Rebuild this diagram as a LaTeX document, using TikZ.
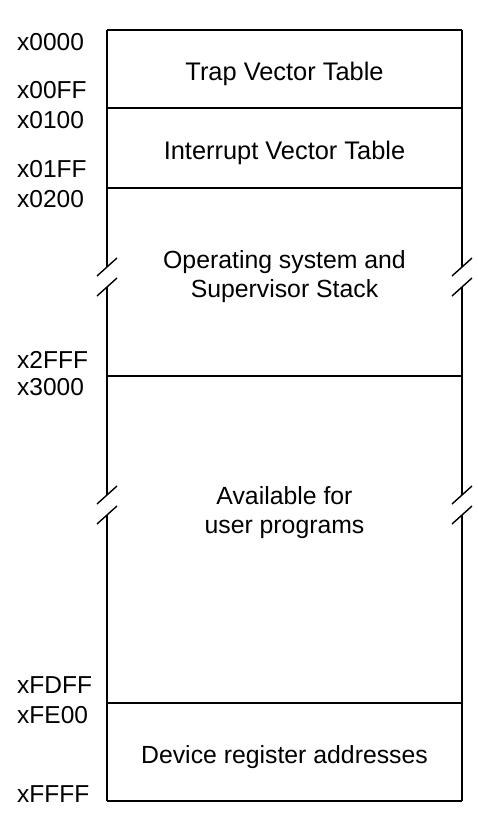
\documentclass[tikz,border=0pt]{standalone}
\usepackage{fontspec}
\setmainfont{Liberation Sans}
\begin{document}
\begin{tikzpicture}[x=1pt,y=-1pt,
  rule/.style={line width=1.4pt,black},
  addr/.style={anchor=base west,inner sep=0pt,font=\fontsize{24.5}{28}\selectfont},
  region/.style={anchor=base,inner sep=0pt,align=center,font=\fontsize{24.8}{28.5}\selectfont},
  wide/.style={font=\fontsize{25.4}{28.5}\selectfont}]
\useasboundingbox (0,0) rectangle (477,827);

% box corners and section boundaries
\coordinate (Lt) at (107,30);  \coordinate (Rt) at (462,30);
\coordinate (Lb) at (107,801); \coordinate (Rb) at (462,801);
\foreach \n/\y in {a/108,b/188,c/376,d/703}{
  \coordinate (\n l) at (107,\y); \coordinate (\n r) at (462,\y);
}
% break points on the two sides
\foreach \n/\y in {1/267,2/287,3/495,4/515}{
  \coordinate (L\n) at (107,\y); \coordinate (R\n) at (462,\y);
}

% outline and dividers
\draw[rule] (Lt) -- (Rt);
\draw[rule] (Lb) -- (Rb);
\foreach \n in {a,b,c,d}{ \draw[rule] (\n l) -- (\n r); }
\foreach \s in {L,R}{
  \draw[rule] (\s t) -- (\s1);
  \draw[rule] (\s2) -- (\s3);
  \draw[rule] (\s4) -- (\s b);
  \foreach \k in {1,2,3,4}{
    \draw[rule] ([shift={(-10,9)}]\s\k) -- ([shift={(10,-9)}]\s\k);
  }
}

% address labels
\node[addr] (x0000) at (17,50)  {x0000};
\node[addr] (x00FF) at (17,98)  {x00FF};
\node[addr] (x0100) at (17,128) {x0100};
\node[addr] (x01FF) at (17,177) {x01FF};
\node[addr] (x0200) at (17,207) {x0200};
\node[addr] (x2FFF) at (17,368) {x2FFF};
\node[addr] (x3000) at (17,395) {x3000};
\node[addr] (xFDFF) at (17,693) {xFDFF};
\node[addr] (xFE00) at (17,723) {xFE00};
\node[addr] (xFFFF) at (17,802) {xFFFF};

% region names (two-line names sit on the baseline of their last line)
\node[region,wide] (trap) at (284.5,80)  {Trap Vector Table};
\node[region,wide] (intr) at (284.5,159) {Interrupt Vector Table};
\node[region] (os)   at (284.5,297) {Operating system and\\Supervisor Stack};
\node[region] (user) at (284.5,533) {Available for\\user programs};
\node[region] (dev)  at (284.5,763) {Device register addresses};
\end{tikzpicture}
\end{document}
